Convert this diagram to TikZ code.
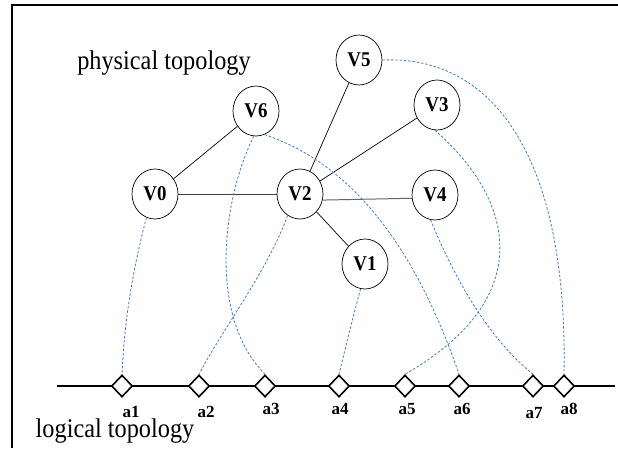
\documentclass[tikz,border=0pt]{standalone}
\usepackage{fontspec}
\setmainfont{Liberation Serif}
\newfontfamily\narrowserif[FakeStretch=0.9]{Liberation Serif}
\usetikzlibrary{shapes.geometric}
\definecolor{linkblue}{RGB}{66,120,212}
\tikzset{
  vert/.style={ellipse, draw, line width=0.7pt, minimum width=46pt, minimum height=50pt,
    inner sep=0pt, font=\narrowserif\bfseries\fontsize{21}{21}\selectfont},
  port/.style={diamond, draw, line width=1.6pt, minimum width=21pt, minimum height=22pt,
    inner sep=0pt, fill=white},
  portlabel/.style={font=\bfseries\fontsize{17}{17}\selectfont, inner sep=0pt},
  caption/.style={font=\narrowserif\fontsize{27}{27}\selectfont, inner sep=0pt},
  link/.style={line width=0.7pt, draw=black},
  map/.style={dash pattern=on 2.5pt off 1.8pt, draw=linkblue, line width=0.8pt}
}
\begin{document}
\begin{tikzpicture}[x=1pt, y=-1pt]
\useasboundingbox (0,0) rectangle (618,448);
% frame
\draw[line width=2pt] (12,448) -- (12,5) -- (618,5);

% captions
\node[caption] (phys) at (164,63) {physical topology};
\node[caption] (logi) at (115,431) {logical topology};

% physical nodes
\node[vert] (V5) at (359,60) {V5};
\node[vert] (V6) at (256,111) {V6};
\node[vert] (V3) at (437,105) {V3};
\node[vert] (V0) at (155,194) {V0};
\node[vert] (V2) at (300,194) {V2};
\node[vert] (V4) at (435,195) {V4};
\node[vert] (V1) at (365,264) {V1};

% physical links
\draw[link] (V0) -- (V6);
\draw[link, draw=black!75] (V0.east) -- (V2.west);
\draw[link] (V2) -- (V5);
\draw[link] (V2) -- (V3);
\draw[link, draw=black!60, line width=1pt] (V2.-15) -- (V4.-172);
\draw[link] (V2) -- (V1);

% logical line
\coordinate (lstart) at (57,386);
\coordinate (lend) at (615,386);
\draw[line width=1.8pt] (lstart) -- (lend);

% port positions on the logical line
\coordinate (p1) at (122,386);
\coordinate (p2) at (199,386);
\coordinate (p3) at (265,386);
\coordinate (p4) at (339,386);
\coordinate (p5) at (405,386);
\coordinate (p6) at (459,386);
\coordinate (p7) at (533,386);
\coordinate (p8) at (564,386);

\node[port] (a1) at (p1) {};
\node[port] (a2) at (p2) {};
\node[port] (a3) at (p3) {};
\node[port] (a4) at (p4) {};
\node[port] (a5) at (p5) {};
\node[port] (a6) at (p6) {};
\node[port] (a7) at (p7) {};
\node[port] (a8) at (p8) {};

% mapping of physical nodes onto ports
\draw[map] (V0.250) .. controls (130,280) and (124,330) .. (a1.north);
\draw[map] (V2.240) .. controls (268,270) and (222,330) .. (a2.north);
\draw[map] (V6.265) .. controls (224,195) and (206,315) .. (a3.north);
\draw[map] (V6.290) .. controls (370,170) and (426,279) .. (a6.north);
\draw[map] (V3.265) .. controls (515,200) and (538,298) .. (a5.north);
\draw[map] (V4.260) .. controls (455,280) and (490,340) .. (a7.north);
\draw[map] (V1.260) .. controls (352,320) and (345,350) .. (a4.north);
\draw[map] (V5.east) .. controls (495,55) and (568,160) .. (a8.north);

% port labels
\node[portlabel] (l1) at (131,412) {a1};
\node[portlabel] (l2) at (206,412) {a2};
\node[portlabel] (l3) at (271,409) {a3};
\node[portlabel] (l4) at (340,409) {a4};
\node[portlabel] (l5) at (407,409) {a5};
\node[portlabel] (l6) at (462,409) {a6};
\node[portlabel] (l7) at (534,413) {a7};
\node[portlabel] (l8) at (569,409) {a8};
\end{tikzpicture}
\end{document}
